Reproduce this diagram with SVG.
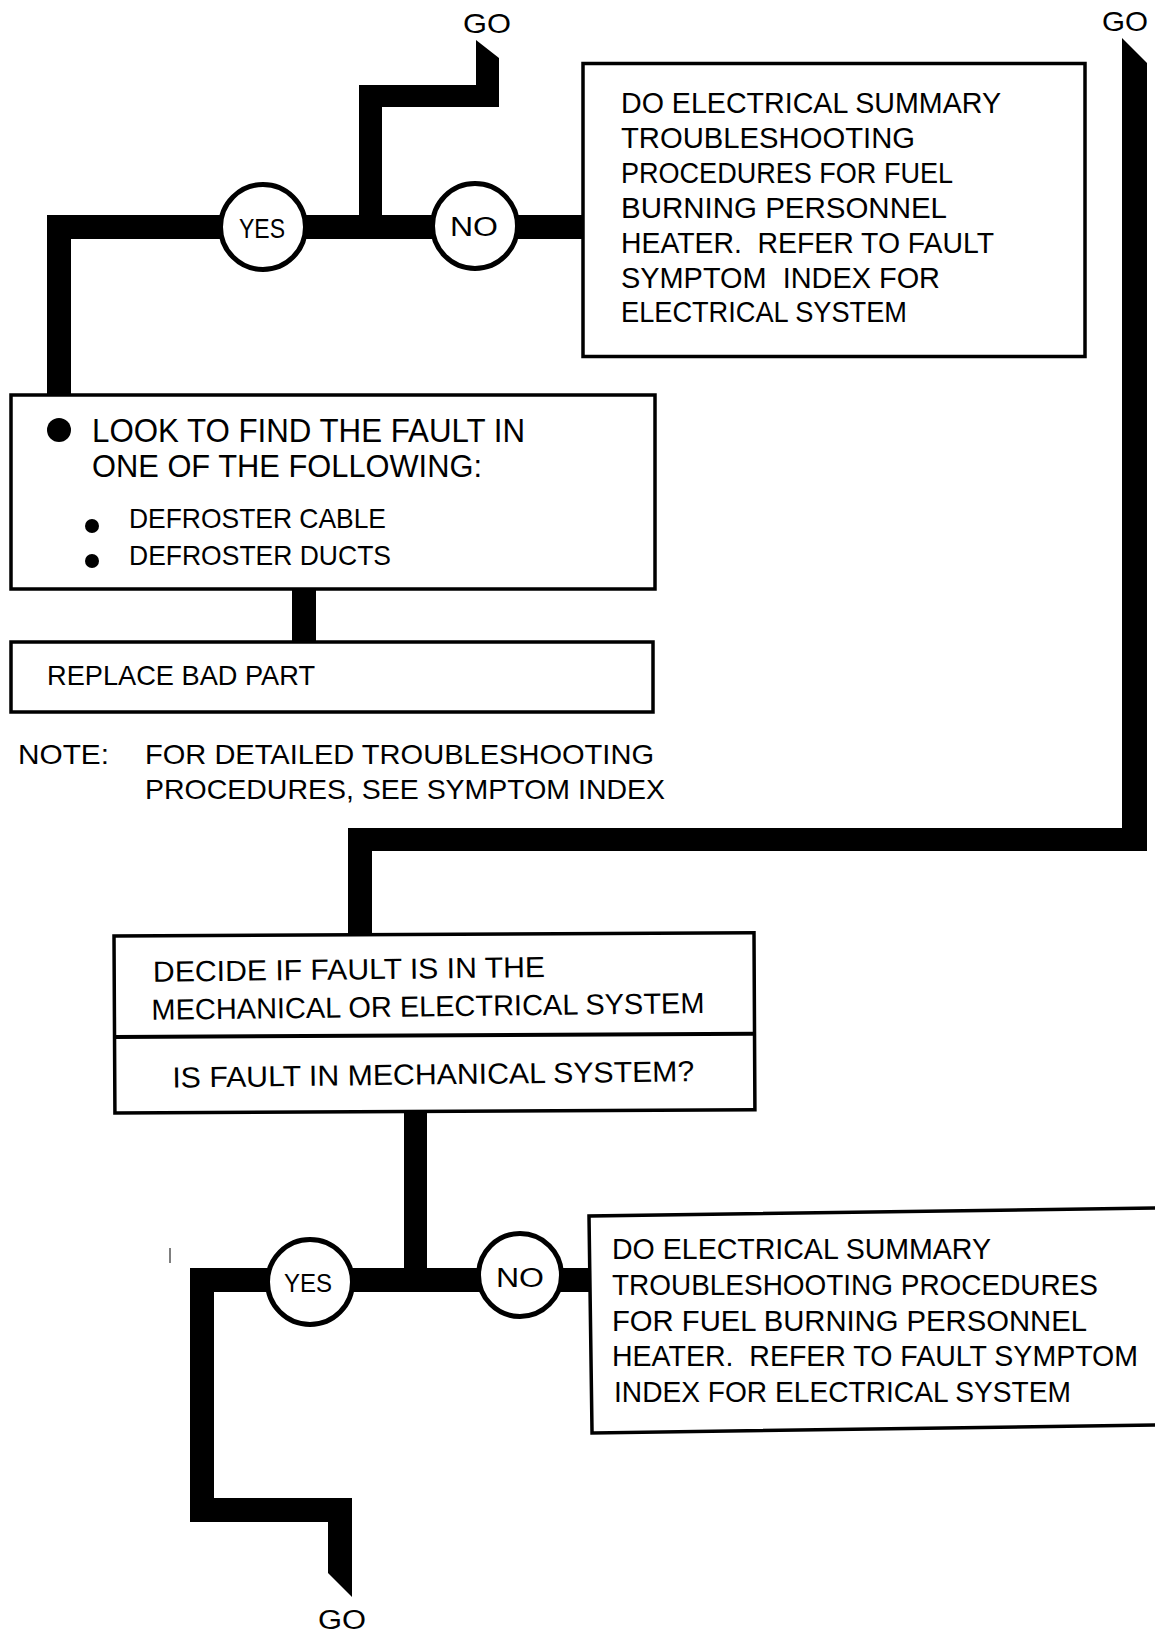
<svg xmlns="http://www.w3.org/2000/svg" width="1155" height="1633" viewBox="0 0 1155 1633">
<style>
.box{fill:#fff;stroke:#000;stroke-width:3.5}
.circ{fill:#fff;stroke:#000;stroke-width:5}
.t{font-family:"Liberation Sans",Arial,sans-serif;fill:#000}
.c{text-anchor:middle}
.wire{fill:#000;stroke:none}
</style>
<rect width="1155" height="1633" fill="#fff"/>
<g id="connectors">
  <polygon class="wire" points="47,395 47,215 584,215 584,239 71,239 71,395"/>
  <polygon class="wire" points="359,230 359,85 476,85 476,40 499,58 499,107 382,107 382,230"/>
  <polygon class="wire" points="1122,38 1147,63 1147,851 372,851 372,937 348,937 348,828 1122,828"/>
  <rect class="wire" x="292" y="588" width="24" height="56"/>
  <rect class="wire" x="404" y="1112" width="23" height="170"/>
  <polygon class="wire" points="190,1268 592,1268 592,1292 214,1292 214,1498 352,1498 352,1597 328,1573 328,1522 190,1522"/>
  <line x1="170" y1="1248" x2="170" y2="1263" stroke="#555" stroke-width="1.5"/>
</g>
<g id="go-top">
  <text class="t c" x="487" y="33" font-size="28" textLength="48" lengthAdjust="spacingAndGlyphs">GO</text>
</g>
<g id="go-right">
  <text class="t c" x="1125" y="31" font-size="28" textLength="46" lengthAdjust="spacingAndGlyphs">GO</text>
</g>
<g id="go-bottom">
  <text class="t c" x="342" y="1629" font-size="27" textLength="48" lengthAdjust="spacingAndGlyphs">GO</text>
</g>
<g id="yes-top">
  <circle class="circ" cx="263" cy="227" r="42.5"/>
  <text class="t c" x="262" y="238" font-size="27" textLength="46" lengthAdjust="spacingAndGlyphs">YES</text>
</g>
<g id="no-top">
  <circle class="circ" cx="475" cy="226" r="42.5"/>
  <text class="t c" x="474" y="236" font-size="27" textLength="48" lengthAdjust="spacingAndGlyphs">NO</text>
</g>
<g id="electrical-top">
  <rect class="box" x="583" y="63.5" width="502" height="293"/>
  <g class="t" font-size="29">
    <text x="621" y="113" textLength="380" lengthAdjust="spacingAndGlyphs">DO ELECTRICAL SUMMARY</text>
    <text x="621" y="148" textLength="294" lengthAdjust="spacingAndGlyphs">TROUBLESHOOTING</text>
    <text x="621" y="183" textLength="332" lengthAdjust="spacingAndGlyphs">PROCEDURES FOR FUEL</text>
    <text x="621" y="218" textLength="326" lengthAdjust="spacingAndGlyphs">BURNING PERSONNEL</text>
    <text x="621" y="253" textLength="373" lengthAdjust="spacingAndGlyphs" xml:space="preserve">HEATER.  REFER TO FAULT</text>
    <text x="621" y="288" textLength="319" lengthAdjust="spacingAndGlyphs" xml:space="preserve">SYMPTOM  INDEX FOR</text>
    <text x="621" y="322" textLength="286" lengthAdjust="spacingAndGlyphs">ELECTRICAL SYSTEM</text>
  </g>
</g>
<g id="look-box">
  <rect class="box" x="11" y="395" width="644" height="194"/>
  <circle cx="59" cy="430" r="12" fill="#000"/>
  <circle cx="92" cy="526" r="7" fill="#000"/>
  <circle cx="92" cy="561" r="7" fill="#000"/>
  <g class="t">
    <text x="92" y="442" font-size="33" textLength="433" lengthAdjust="spacingAndGlyphs">LOOK TO FIND THE FAULT IN</text>
    <text x="92" y="477" font-size="31" textLength="390" lengthAdjust="spacingAndGlyphs">ONE OF THE FOLLOWING:</text>
    <text x="129" y="528" font-size="28" textLength="257" lengthAdjust="spacingAndGlyphs">DEFROSTER CABLE</text>
    <text x="129" y="565" font-size="28" textLength="262" lengthAdjust="spacingAndGlyphs">DEFROSTER DUCTS</text>
  </g>
</g>
<g id="replace-box">
  <rect class="box" x="11" y="642" width="642" height="70"/>
  <text class="t" x="47" y="685" font-size="28" textLength="268" lengthAdjust="spacingAndGlyphs">REPLACE BAD PART</text>
</g>
<g id="note">
  <text class="t" x="18" y="764" font-size="28" textLength="91" lengthAdjust="spacingAndGlyphs">NOTE:</text>
  <text class="t" x="145" y="764" font-size="28" textLength="509" lengthAdjust="spacingAndGlyphs">FOR DETAILED TROUBLESHOOTING</text>
  <text class="t" x="145" y="799" font-size="28" textLength="520" lengthAdjust="spacingAndGlyphs">PROCEDURES, SEE SYMPTOM INDEX</text>
</g>
<g id="decide-box" transform="rotate(-0.3 112 936)">
  <rect class="box" x="114" y="936" width="640" height="177"/>
  <line x1="114" y1="1037" x2="754" y2="1037" stroke="#000" stroke-width="4"/>
  <g class="t" font-size="29" transform="rotate(-0.4 150 1000)">
    <text x="153" y="982" textLength="392" lengthAdjust="spacingAndGlyphs">DECIDE IF FAULT IS IN THE</text>
    <text x="151" y="1020" textLength="553" lengthAdjust="spacingAndGlyphs">MECHANICAL OR ELECTRICAL SYSTEM</text>
    <text x="171" y="1088" textLength="522" lengthAdjust="spacingAndGlyphs">IS FAULT IN MECHANICAL SYSTEM?</text>
  </g>
</g>
<g id="yes-bottom">
  <circle class="circ" cx="310" cy="1282" r="42.5"/>
  <text class="t c" x="308" y="1292" font-size="26" textLength="48" lengthAdjust="spacingAndGlyphs">YES</text>
</g>
<g id="no-bottom">
  <circle class="circ" cx="520" cy="1275" r="41.5"/>
  <text class="t c" x="520" y="1287" font-size="27" textLength="48" lengthAdjust="spacingAndGlyphs">NO</text>
</g>
<g id="electrical-bottom">
  <rect class="box" x="589" y="1216" width="600" height="217" transform="rotate(-0.8 588 1216)"/>
  <g class="t" font-size="29">
    <text x="612" y="1259" textLength="379" lengthAdjust="spacingAndGlyphs">DO ELECTRICAL SUMMARY</text>
    <text x="612" y="1295" textLength="486" lengthAdjust="spacingAndGlyphs">TROUBLESHOOTING PROCEDURES</text>
    <text x="612" y="1331" textLength="475" lengthAdjust="spacingAndGlyphs">FOR FUEL BURNING PERSONNEL</text>
    <text x="612" y="1366" textLength="526" lengthAdjust="spacingAndGlyphs" xml:space="preserve">HEATER.  REFER TO FAULT SYMPTOM</text>
    <text x="614" y="1402" textLength="457" lengthAdjust="spacingAndGlyphs">INDEX FOR ELECTRICAL SYSTEM</text>
  </g>
</g>
</svg>
